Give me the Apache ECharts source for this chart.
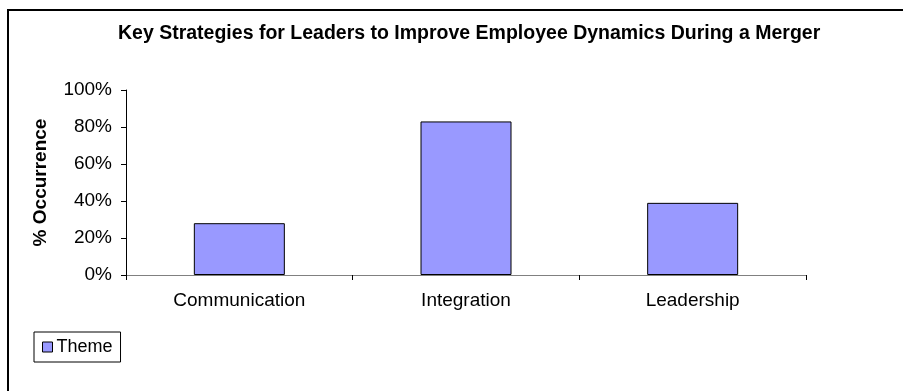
<!DOCTYPE html>
<html>
<head>
<meta charset="utf-8">
<script src="https://cdn.jsdelivr.net/npm/echarts@6/dist/echarts.min.js"></script>
<style>
html,body{margin:0;padding:0;background:#fff;}
#chart{width:903px;height:391px;}
</style>
</head>
<body>
<div id="chart"></div>
<script>
const categories = ['Communication', 'Integration', 'Leadership'];
const themeValues = [28, 83, 39];
const seriesName = 'Theme';
const chartTitle = 'Key Strategies for Leaders to Improve Employee Dynamics During a Merger';
const yAxisName = '% Occurrence';

const chart = echarts.init(document.getElementById('chart'), null, {renderer: 'canvas'});
const font = 'Liberation Sans, Arial, sans-serif';
chart.setOption({
  backgroundColor: '#fff',
  animation: false,
  graphic: [{
    type: 'rect',
    shape: {x: 8, y: 10, width: 1000, height: 1000},
    style: {fill: 'none', stroke: '#000', lineWidth: 2},
    z: 100
  }],
  title: {
    text: chartTitle,
    left: 113,
    top: 19,
    textStyle: {fontFamily: font, fontSize: 19.5, fontWeight: 'bold', color: '#000'}
  },
  legend: {
    left: 34,
    top: 332,
    orient: 'vertical',
    padding: [6, 8, 6, 8],
    borderColor: '#000',
    borderWidth: 1,
    itemWidth: 10,
    itemHeight: 10,
    itemGap: 4,
    icon: 'rect',
    textStyle: {fontFamily: font, fontSize: 18, color: '#000', padding: [0, 0, 0, -1]},
    itemStyle: {borderColor: '#000', borderWidth: 1},
    data: [seriesName]
  },
  grid: {left: 126, right: 97, top: 90, bottom: 116, containLabel: false},
  xAxis: {
    type: 'category',
    data: categories,
    axisLine: {lineStyle: {color: '#808080', width: 1}},
    axisTick: {show: true, length: 5, lineStyle: {color: '#000'}},
    axisLabel: {fontFamily: font, fontSize: 19, color: '#000', margin: 16},
    splitLine: {show: false}
  },
  yAxis: {
    type: 'value',
    min: 0,
    max: 100,
    interval: 20,
    name: yAxisName,
    nameLocation: 'middle',
    nameGap: 76,
    nameTextStyle: {fontFamily: font, fontSize: 19, fontWeight: 'bold', color: '#000'},
    axisLine: {show: true, lineStyle: {color: '#000', width: 1}},
    axisTick: {show: true, length: 5, lineStyle: {color: '#000'}},
    axisLabel: {fontFamily: font, fontSize: 19, color: '#000', margin: 14, formatter: '{value}%'},
    splitLine: {show: false}
  },
  series: [{
    name: seriesName,
    type: 'bar',
    data: themeValues,
    barWidth: 91,
    itemStyle: {color: '#9999FF', borderColor: '#000', borderWidth: 1}
  }]
});
</script>
</body>
</html>
